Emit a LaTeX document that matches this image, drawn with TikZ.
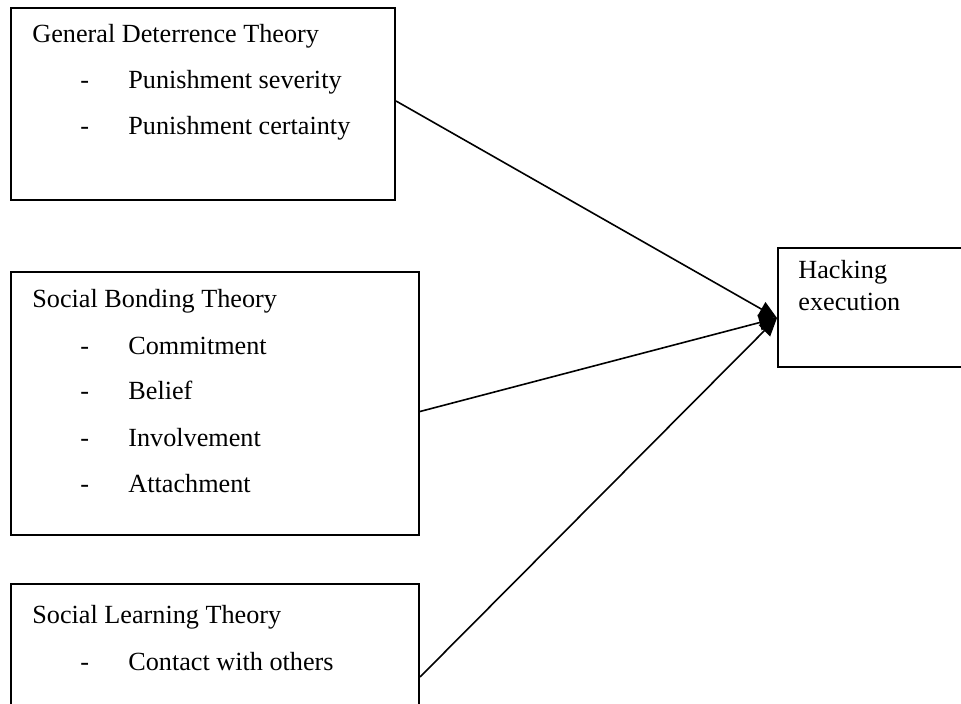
\documentclass[tikz,border=0pt]{standalone}
\usepackage{fontspec}
\setmainfont{Liberation Serif}
\usepackage{tikz}
\usetikzlibrary{arrows.meta}

\tikzset{
  theorybox/.style={draw, line width=1pt, inner sep=0pt},
  txt/.style={anchor=base west, inner sep=0pt, font=\fontsize{13.1}{15}\selectfont},
  link/.style={line width=0.8pt, -{Triangle[length=9pt,width=8pt]}}
}

\begin{document}
\begin{tikzpicture}[x=0.5pt, y=-0.5pt]

  \useasboundingbox (0,0) rectangle (961,704);
  \clip (0,0) rectangle (961,704);

  % boxes
  \node[theorybox, minimum width=192pt, minimum height=96pt] (gdt) at (203,104) {};
  \node[theorybox, minimum width=204pt, minimum height=131.5pt] (sbt) at (215,403.5) {};
  \node[theorybox, minimum width=204pt, minimum height=93pt] (slt) at (215,677) {};
  \node[theorybox, minimum width=111pt, minimum height=59.5pt] (hack) at (889,307.5) {};

  % general deterrence theory
  \node[txt] (gdt0) at (32,43) {General Deterrence Theory};
  \node[txt] (gdtd1) at (80,89) {-};
  \node[txt] (gdt1) at (128,89) {Punishment severity};
  \node[txt] (gdtd2) at (80,135) {-};
  \node[txt] (gdt2) at (128,135) {Punishment certainty};

  % social bonding theory
  \node[txt] (sbt0) at (32,308) {Social Bonding Theory};
  \node[txt] (sbtd1) at (80,355) {-};
  \node[txt] (sbt1) at (128,355) {Commitment};
  \node[txt] (sbtd2) at (80,400) {-};
  \node[txt] (sbt2) at (128,400) {Belief};
  \node[txt] (sbtd3) at (80,446) {-};
  \node[txt] (sbt3) at (128,446) {Involvement};
  \node[txt] (sbtd4) at (80,492) {-};
  \node[txt] (sbt4) at (128,492) {Attachment};

  % social learning theory
  \node[txt] (slt0) at (32,623) {Social Learning Theory};
  \node[txt] (sltd1) at (80,670) {-};
  \node[txt] (slt1) at (128,670) {Contact with others};

  % outcome
  \node[txt] (hack0) at (798,279) {Hacking};
  \node[txt] (hack1) at (798,311) {execution};

  \coordinate (tip) at (777,318);

  \path[link] ([yshift=1.5pt]gdt.east) edge (tip);
  \path[link] ([yshift=-4pt]sbt.east) edge (tip);
  \path[link] (slt.east) edge (tip);

\end{tikzpicture}
\end{document}
